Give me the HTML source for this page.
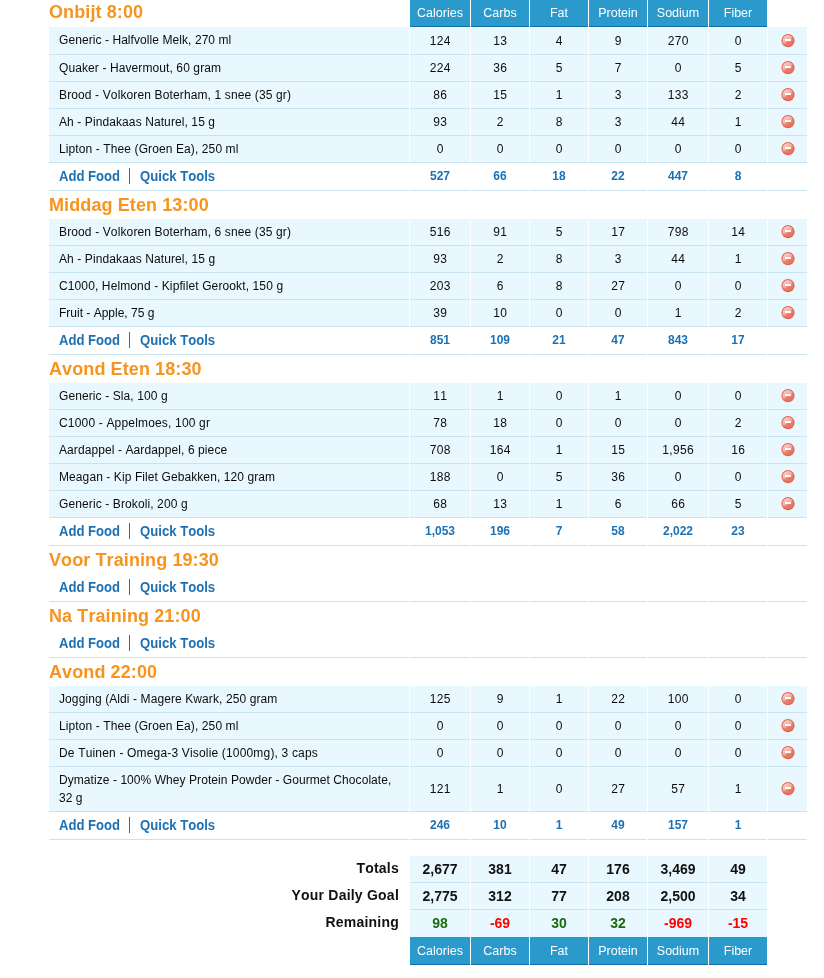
<!DOCTYPE html>
<html lang="nl">
<head>
<meta charset="utf-8">
<title>Food Diary</title>
<style>
html,body{margin:0;padding:0;background:#fff;}
body{width:824px;height:978px;overflow:hidden;font-family:"Liberation Sans",Arial,Helvetica,sans-serif;font-size:12px;color:#0c0c0c;font-kerning:none;}
#diary{position:absolute;left:49px;top:0;width:758px;}
.row{display:flex;width:758px;box-sizing:border-box;}
.c{box-sizing:border-box;margin-right:1px;flex:none;}
.name{width:360px;}
.n0,.n4{width:60px;}
.n1,.n2,.n3,.n5{width:58px;}
.d{width:39px;margin-right:0;}
.n{text-align:center;}
/* heading rows */
.head{height:28px;}
.head.first{height:27px;}
h2{margin:0;font-size:18px;line-height:20px;font-weight:bold;color:#f7941d;padding-top:4px;white-space:nowrap;letter-spacing:0.1px;}
.first h2{padding-top:2px;}
.th{background:#2a9acd;color:#fff;font-size:12.5px;height:27px;line-height:27px;border-bottom:1px solid #0f6caa;}
/* food rows */
.food{height:27px;}
.food .c{background:#e9f7fe;border-bottom:1px solid #c8e4f1;line-height:26px;}
.food .n span{letter-spacing:0.33px;margin-right:-0.33px;}
.food .name{padding-left:10px;white-space:nowrap;letter-spacing:0;}
.food.top{height:28px;}
.food.top .n{border-top:1px solid #fff;}
.food.top .name,.food.top .d{line-height:27px;}
.food.tall{height:45px;}
.food.tall .c{line-height:44px;}
.food.tall .name{line-height:18px;padding-top:4px;}
.del{display:block;margin:6px 0 0 13px;}
.food.top .del{margin-top:7px;}
.food.tall .del{margin-top:15px;}
/* add rows */
.add{height:28px;}
.add .c{border-bottom:1px solid #c8e4f1;line-height:27px;color:#1c71b4;font-weight:bold;}
.add .name{padding-left:10px;font-size:13px;white-space:nowrap;line-height:27px;}
.add a{color:#1c71b4;display:inline-block;font-size:14px;transform-origin:0 50%;line-height:27px;}
.add .af{transform:scaleX(0.935);margin-right:-4.2px;}
.add .qt{transform:scaleX(0.938);margin-right:-4.9px;}
.bar{display:inline-block;width:1px;height:16px;background:#1c71b4;vertical-align:middle;margin:-4px 10px 0 9px;}
.gap{height:16px;}
/* totals */
.tot{height:27px;}
.tot .n{background:#e9f7fe;border-bottom:1px solid #c8e4f1;line-height:26px;font-weight:bold;font-size:14px;color:#111;}
.tot .name{text-align:right;padding-right:10px;font-weight:bold;font-size:14px;line-height:24px;color:#111;letter-spacing:0.22px;white-space:nowrap;}
.tot.t2 .n{border-bottom:0;line-height:27px;}
.tot .pos{color:#196b10;}
.tot .neg{color:#f00;}
.foot{height:28px;}
.foot .th{height:28px;line-height:29px;}
</style>
</head>
<body>
<div id="diary">
<div class="row head first"><div class="c name"><h2>Onbijt 8:00</h2></div><div class="c n n0 th"><span>Calories</span></div><div class="c n n1 th"><span>Carbs</span></div><div class="c n n2 th"><span>Fat</span></div><div class="c n n3 th"><span>Protein</span></div><div class="c n n4 th"><span>Sodium</span></div><div class="c n n5 th"><span>Fiber</span></div><div class="c d"></div></div>
<div class="row food top"><div class="c name"><span style="letter-spacing:0.071px">Generic - Halfvolle Melk, 270 ml</span></div><div class="c n n0"><span>124</span></div><div class="c n n1"><span>13</span></div><div class="c n n2"><span>4</span></div><div class="c n n3"><span>9</span></div><div class="c n n4"><span>270</span></div><div class="c n n5"><span>0</span></div><div class="c d"><svg class="del" width="14" height="14" viewBox="0 0 14 14"><defs><linearGradient id="g1" x1="0.2" y1="0.05" x2="0.8" y2="0.95"><stop offset="0" stop-color="#fad2cc"/><stop offset="0.5" stop-color="#f2a69c"/><stop offset="0.56" stop-color="#e9806e"/><stop offset="1" stop-color="#e56f5a"/></linearGradient></defs><circle cx="7" cy="6.6" r="6.6" fill="#e3654f"/><circle cx="7" cy="6.6" r="5.5" fill="url(#g1)"/><rect x="4" y="5" width="6" height="2" fill="#fff"/></svg></div></div>
<div class="row food"><div class="c name"><span style="letter-spacing:0.1px">Quaker - Havermout, 60 gram</span></div><div class="c n n0"><span>224</span></div><div class="c n n1"><span>36</span></div><div class="c n n2"><span>5</span></div><div class="c n n3"><span>7</span></div><div class="c n n4"><span>0</span></div><div class="c n n5"><span>5</span></div><div class="c d"><svg class="del" width="14" height="14" viewBox="0 0 14 14"><defs><linearGradient id="g2" x1="0.2" y1="0.05" x2="0.8" y2="0.95"><stop offset="0" stop-color="#fad2cc"/><stop offset="0.5" stop-color="#f2a69c"/><stop offset="0.56" stop-color="#e9806e"/><stop offset="1" stop-color="#e56f5a"/></linearGradient></defs><circle cx="7" cy="6.6" r="6.6" fill="#e3654f"/><circle cx="7" cy="6.6" r="5.5" fill="url(#g2)"/><rect x="4" y="5" width="6" height="2" fill="#fff"/></svg></div></div>
<div class="row food"><div class="c name"><span style="letter-spacing:0.128px">Brood - Volkoren Boterham, 1 snee (35 gr)</span></div><div class="c n n0"><span>86</span></div><div class="c n n1"><span>15</span></div><div class="c n n2"><span>1</span></div><div class="c n n3"><span>3</span></div><div class="c n n4"><span>133</span></div><div class="c n n5"><span>2</span></div><div class="c d"><svg class="del" width="14" height="14" viewBox="0 0 14 14"><defs><linearGradient id="g3" x1="0.2" y1="0.05" x2="0.8" y2="0.95"><stop offset="0" stop-color="#fad2cc"/><stop offset="0.5" stop-color="#f2a69c"/><stop offset="0.56" stop-color="#e9806e"/><stop offset="1" stop-color="#e56f5a"/></linearGradient></defs><circle cx="7" cy="6.6" r="6.6" fill="#e3654f"/><circle cx="7" cy="6.6" r="5.5" fill="url(#g3)"/><rect x="4" y="5" width="6" height="2" fill="#fff"/></svg></div></div>
<div class="row food"><div class="c name"><span style="letter-spacing:0.096px">Ah - Pindakaas Naturel, 15 g</span></div><div class="c n n0"><span>93</span></div><div class="c n n1"><span>2</span></div><div class="c n n2"><span>8</span></div><div class="c n n3"><span>3</span></div><div class="c n n4"><span>44</span></div><div class="c n n5"><span>1</span></div><div class="c d"><svg class="del" width="14" height="14" viewBox="0 0 14 14"><defs><linearGradient id="g4" x1="0.2" y1="0.05" x2="0.8" y2="0.95"><stop offset="0" stop-color="#fad2cc"/><stop offset="0.5" stop-color="#f2a69c"/><stop offset="0.56" stop-color="#e9806e"/><stop offset="1" stop-color="#e56f5a"/></linearGradient></defs><circle cx="7" cy="6.6" r="6.6" fill="#e3654f"/><circle cx="7" cy="6.6" r="5.5" fill="url(#g4)"/><rect x="4" y="5" width="6" height="2" fill="#fff"/></svg></div></div>
<div class="row food"><div class="c name"><span style="letter-spacing:0.106px">Lipton - Thee (Groen Ea), 250 ml</span></div><div class="c n n0"><span>0</span></div><div class="c n n1"><span>0</span></div><div class="c n n2"><span>0</span></div><div class="c n n3"><span>0</span></div><div class="c n n4"><span>0</span></div><div class="c n n5"><span>0</span></div><div class="c d"><svg class="del" width="14" height="14" viewBox="0 0 14 14"><defs><linearGradient id="g5" x1="0.2" y1="0.05" x2="0.8" y2="0.95"><stop offset="0" stop-color="#fad2cc"/><stop offset="0.5" stop-color="#f2a69c"/><stop offset="0.56" stop-color="#e9806e"/><stop offset="1" stop-color="#e56f5a"/></linearGradient></defs><circle cx="7" cy="6.6" r="6.6" fill="#e3654f"/><circle cx="7" cy="6.6" r="5.5" fill="url(#g5)"/><rect x="4" y="5" width="6" height="2" fill="#fff"/></svg></div></div>
<div class="row add"><div class="c name"><a class="af">Add Food</a><i class="bar"></i><a class="qt">Quick Tools</a></div><div class="c n n0"><span>527</span></div><div class="c n n1"><span>66</span></div><div class="c n n2"><span>18</span></div><div class="c n n3"><span>22</span></div><div class="c n n4"><span>447</span></div><div class="c n n5"><span>8</span></div><div class="c d"></div></div>
<div class="row head"><div class="c name"><h2>Middag Eten 13:00</h2></div></div>
<div class="row food"><div class="c name"><span style="letter-spacing:0.13px">Brood - Volkoren Boterham, 6 snee (35 gr)</span></div><div class="c n n0"><span>516</span></div><div class="c n n1"><span>91</span></div><div class="c n n2"><span>5</span></div><div class="c n n3"><span>17</span></div><div class="c n n4"><span>798</span></div><div class="c n n5"><span>14</span></div><div class="c d"><svg class="del" width="14" height="14" viewBox="0 0 14 14"><defs><linearGradient id="g6" x1="0.2" y1="0.05" x2="0.8" y2="0.95"><stop offset="0" stop-color="#fad2cc"/><stop offset="0.5" stop-color="#f2a69c"/><stop offset="0.56" stop-color="#e9806e"/><stop offset="1" stop-color="#e56f5a"/></linearGradient></defs><circle cx="7" cy="6.6" r="6.6" fill="#e3654f"/><circle cx="7" cy="6.6" r="5.5" fill="url(#g6)"/><rect x="4" y="5" width="6" height="2" fill="#fff"/></svg></div></div>
<div class="row food"><div class="c name"><span style="letter-spacing:0.1px">Ah - Pindakaas Naturel, 15 g</span></div><div class="c n n0"><span>93</span></div><div class="c n n1"><span>2</span></div><div class="c n n2"><span>8</span></div><div class="c n n3"><span>3</span></div><div class="c n n4"><span>44</span></div><div class="c n n5"><span>1</span></div><div class="c d"><svg class="del" width="14" height="14" viewBox="0 0 14 14"><defs><linearGradient id="g7" x1="0.2" y1="0.05" x2="0.8" y2="0.95"><stop offset="0" stop-color="#fad2cc"/><stop offset="0.5" stop-color="#f2a69c"/><stop offset="0.56" stop-color="#e9806e"/><stop offset="1" stop-color="#e56f5a"/></linearGradient></defs><circle cx="7" cy="6.6" r="6.6" fill="#e3654f"/><circle cx="7" cy="6.6" r="5.5" fill="url(#g7)"/><rect x="4" y="5" width="6" height="2" fill="#fff"/></svg></div></div>
<div class="row food"><div class="c name"><span style="letter-spacing:0.118px">C1000, Helmond - Kipfilet Gerookt, 150 g</span></div><div class="c n n0"><span>203</span></div><div class="c n n1"><span>6</span></div><div class="c n n2"><span>8</span></div><div class="c n n3"><span>27</span></div><div class="c n n4"><span>0</span></div><div class="c n n5"><span>0</span></div><div class="c d"><svg class="del" width="14" height="14" viewBox="0 0 14 14"><defs><linearGradient id="g8" x1="0.2" y1="0.05" x2="0.8" y2="0.95"><stop offset="0" stop-color="#fad2cc"/><stop offset="0.5" stop-color="#f2a69c"/><stop offset="0.56" stop-color="#e9806e"/><stop offset="1" stop-color="#e56f5a"/></linearGradient></defs><circle cx="7" cy="6.6" r="6.6" fill="#e3654f"/><circle cx="7" cy="6.6" r="5.5" fill="url(#g8)"/><rect x="4" y="5" width="6" height="2" fill="#fff"/></svg></div></div>
<div class="row food"><div class="c name"><span style="letter-spacing:0px">Fruit - Apple, 75 g</span></div><div class="c n n0"><span>39</span></div><div class="c n n1"><span>10</span></div><div class="c n n2"><span>0</span></div><div class="c n n3"><span>0</span></div><div class="c n n4"><span>1</span></div><div class="c n n5"><span>2</span></div><div class="c d"><svg class="del" width="14" height="14" viewBox="0 0 14 14"><defs><linearGradient id="g9" x1="0.2" y1="0.05" x2="0.8" y2="0.95"><stop offset="0" stop-color="#fad2cc"/><stop offset="0.5" stop-color="#f2a69c"/><stop offset="0.56" stop-color="#e9806e"/><stop offset="1" stop-color="#e56f5a"/></linearGradient></defs><circle cx="7" cy="6.6" r="6.6" fill="#e3654f"/><circle cx="7" cy="6.6" r="5.5" fill="url(#g9)"/><rect x="4" y="5" width="6" height="2" fill="#fff"/></svg></div></div>
<div class="row add"><div class="c name"><a class="af">Add Food</a><i class="bar"></i><a class="qt">Quick Tools</a></div><div class="c n n0"><span>851</span></div><div class="c n n1"><span>109</span></div><div class="c n n2"><span>21</span></div><div class="c n n3"><span>47</span></div><div class="c n n4"><span>843</span></div><div class="c n n5"><span>17</span></div><div class="c d"></div></div>
<div class="row head"><div class="c name"><h2>Avond Eten 18:30</h2></div></div>
<div class="row food"><div class="c name"><span style="letter-spacing:0.1px">Generic - Sla, 100 g</span></div><div class="c n n0"><span>11</span></div><div class="c n n1"><span>1</span></div><div class="c n n2"><span>0</span></div><div class="c n n3"><span>1</span></div><div class="c n n4"><span>0</span></div><div class="c n n5"><span>0</span></div><div class="c d"><svg class="del" width="14" height="14" viewBox="0 0 14 14"><defs><linearGradient id="g10" x1="0.2" y1="0.05" x2="0.8" y2="0.95"><stop offset="0" stop-color="#fad2cc"/><stop offset="0.5" stop-color="#f2a69c"/><stop offset="0.56" stop-color="#e9806e"/><stop offset="1" stop-color="#e56f5a"/></linearGradient></defs><circle cx="7" cy="6.6" r="6.6" fill="#e3654f"/><circle cx="7" cy="6.6" r="5.5" fill="url(#g10)"/><rect x="4" y="5" width="6" height="2" fill="#fff"/></svg></div></div>
<div class="row food"><div class="c name"><span style="letter-spacing:0.175px">C1000 - Appelmoes, 100 gr</span></div><div class="c n n0"><span>78</span></div><div class="c n n1"><span>18</span></div><div class="c n n2"><span>0</span></div><div class="c n n3"><span>0</span></div><div class="c n n4"><span>0</span></div><div class="c n n5"><span>2</span></div><div class="c d"><svg class="del" width="14" height="14" viewBox="0 0 14 14"><defs><linearGradient id="g11" x1="0.2" y1="0.05" x2="0.8" y2="0.95"><stop offset="0" stop-color="#fad2cc"/><stop offset="0.5" stop-color="#f2a69c"/><stop offset="0.56" stop-color="#e9806e"/><stop offset="1" stop-color="#e56f5a"/></linearGradient></defs><circle cx="7" cy="6.6" r="6.6" fill="#e3654f"/><circle cx="7" cy="6.6" r="5.5" fill="url(#g11)"/><rect x="4" y="5" width="6" height="2" fill="#fff"/></svg></div></div>
<div class="row food"><div class="c name"><span style="letter-spacing:0.093px">Aardappel - Aardappel, 6 piece</span></div><div class="c n n0"><span>708</span></div><div class="c n n1"><span>164</span></div><div class="c n n2"><span>1</span></div><div class="c n n3"><span>15</span></div><div class="c n n4"><span>1,956</span></div><div class="c n n5"><span>16</span></div><div class="c d"><svg class="del" width="14" height="14" viewBox="0 0 14 14"><defs><linearGradient id="g12" x1="0.2" y1="0.05" x2="0.8" y2="0.95"><stop offset="0" stop-color="#fad2cc"/><stop offset="0.5" stop-color="#f2a69c"/><stop offset="0.56" stop-color="#e9806e"/><stop offset="1" stop-color="#e56f5a"/></linearGradient></defs><circle cx="7" cy="6.6" r="6.6" fill="#e3654f"/><circle cx="7" cy="6.6" r="5.5" fill="url(#g12)"/><rect x="4" y="5" width="6" height="2" fill="#fff"/></svg></div></div>
<div class="row food"><div class="c name"><span style="letter-spacing:0.092px">Meagan - Kip Filet Gebakken, 120 gram</span></div><div class="c n n0"><span>188</span></div><div class="c n n1"><span>0</span></div><div class="c n n2"><span>5</span></div><div class="c n n3"><span>36</span></div><div class="c n n4"><span>0</span></div><div class="c n n5"><span>0</span></div><div class="c d"><svg class="del" width="14" height="14" viewBox="0 0 14 14"><defs><linearGradient id="g13" x1="0.2" y1="0.05" x2="0.8" y2="0.95"><stop offset="0" stop-color="#fad2cc"/><stop offset="0.5" stop-color="#f2a69c"/><stop offset="0.56" stop-color="#e9806e"/><stop offset="1" stop-color="#e56f5a"/></linearGradient></defs><circle cx="7" cy="6.6" r="6.6" fill="#e3654f"/><circle cx="7" cy="6.6" r="5.5" fill="url(#g13)"/><rect x="4" y="5" width="6" height="2" fill="#fff"/></svg></div></div>
<div class="row food"><div class="c name"><span style="letter-spacing:0.109px">Generic - Brokoli, 200 g</span></div><div class="c n n0"><span>68</span></div><div class="c n n1"><span>13</span></div><div class="c n n2"><span>1</span></div><div class="c n n3"><span>6</span></div><div class="c n n4"><span>66</span></div><div class="c n n5"><span>5</span></div><div class="c d"><svg class="del" width="14" height="14" viewBox="0 0 14 14"><defs><linearGradient id="g14" x1="0.2" y1="0.05" x2="0.8" y2="0.95"><stop offset="0" stop-color="#fad2cc"/><stop offset="0.5" stop-color="#f2a69c"/><stop offset="0.56" stop-color="#e9806e"/><stop offset="1" stop-color="#e56f5a"/></linearGradient></defs><circle cx="7" cy="6.6" r="6.6" fill="#e3654f"/><circle cx="7" cy="6.6" r="5.5" fill="url(#g14)"/><rect x="4" y="5" width="6" height="2" fill="#fff"/></svg></div></div>
<div class="row add"><div class="c name"><a class="af">Add Food</a><i class="bar"></i><a class="qt">Quick Tools</a></div><div class="c n n0"><span>1,053</span></div><div class="c n n1"><span>196</span></div><div class="c n n2"><span>7</span></div><div class="c n n3"><span>58</span></div><div class="c n n4"><span>2,022</span></div><div class="c n n5"><span>23</span></div><div class="c d"></div></div>
<div class="row head"><div class="c name"><h2>Voor Training 19:30</h2></div></div>
<div class="row add"><div class="c name"><a class="af">Add Food</a><i class="bar"></i><a class="qt">Quick Tools</a></div><div class="c n n0"><span></span></div><div class="c n n1"><span></span></div><div class="c n n2"><span></span></div><div class="c n n3"><span></span></div><div class="c n n4"><span></span></div><div class="c n n5"><span></span></div><div class="c d"></div></div>
<div class="row head"><div class="c name"><h2>Na Training 21:00</h2></div></div>
<div class="row add"><div class="c name"><a class="af">Add Food</a><i class="bar"></i><a class="qt">Quick Tools</a></div><div class="c n n0"><span></span></div><div class="c n n1"><span></span></div><div class="c n n2"><span></span></div><div class="c n n3"><span></span></div><div class="c n n4"><span></span></div><div class="c n n5"><span></span></div><div class="c d"></div></div>
<div class="row head"><div class="c name"><h2>Avond 22:00</h2></div></div>
<div class="row food"><div class="c name"><span style="letter-spacing:0.095px">Jogging (Aldi - Magere Kwark, 250 gram</span></div><div class="c n n0"><span>125</span></div><div class="c n n1"><span>9</span></div><div class="c n n2"><span>1</span></div><div class="c n n3"><span>22</span></div><div class="c n n4"><span>100</span></div><div class="c n n5"><span>0</span></div><div class="c d"><svg class="del" width="14" height="14" viewBox="0 0 14 14"><defs><linearGradient id="g15" x1="0.2" y1="0.05" x2="0.8" y2="0.95"><stop offset="0" stop-color="#fad2cc"/><stop offset="0.5" stop-color="#f2a69c"/><stop offset="0.56" stop-color="#e9806e"/><stop offset="1" stop-color="#e56f5a"/></linearGradient></defs><circle cx="7" cy="6.6" r="6.6" fill="#e3654f"/><circle cx="7" cy="6.6" r="5.5" fill="url(#g15)"/><rect x="4" y="5" width="6" height="2" fill="#fff"/></svg></div></div>
<div class="row food"><div class="c name"><span style="letter-spacing:0.106px">Lipton - Thee (Groen Ea), 250 ml</span></div><div class="c n n0"><span>0</span></div><div class="c n n1"><span>0</span></div><div class="c n n2"><span>0</span></div><div class="c n n3"><span>0</span></div><div class="c n n4"><span>0</span></div><div class="c n n5"><span>0</span></div><div class="c d"><svg class="del" width="14" height="14" viewBox="0 0 14 14"><defs><linearGradient id="g16" x1="0.2" y1="0.05" x2="0.8" y2="0.95"><stop offset="0" stop-color="#fad2cc"/><stop offset="0.5" stop-color="#f2a69c"/><stop offset="0.56" stop-color="#e9806e"/><stop offset="1" stop-color="#e56f5a"/></linearGradient></defs><circle cx="7" cy="6.6" r="6.6" fill="#e3654f"/><circle cx="7" cy="6.6" r="5.5" fill="url(#g16)"/><rect x="4" y="5" width="6" height="2" fill="#fff"/></svg></div></div>
<div class="row food"><div class="c name"><span style="letter-spacing:0.17px">De Tuinen - Omega-3 Visolie (1000mg), 3 caps</span></div><div class="c n n0"><span>0</span></div><div class="c n n1"><span>0</span></div><div class="c n n2"><span>0</span></div><div class="c n n3"><span>0</span></div><div class="c n n4"><span>0</span></div><div class="c n n5"><span>0</span></div><div class="c d"><svg class="del" width="14" height="14" viewBox="0 0 14 14"><defs><linearGradient id="g17" x1="0.2" y1="0.05" x2="0.8" y2="0.95"><stop offset="0" stop-color="#fad2cc"/><stop offset="0.5" stop-color="#f2a69c"/><stop offset="0.56" stop-color="#e9806e"/><stop offset="1" stop-color="#e56f5a"/></linearGradient></defs><circle cx="7" cy="6.6" r="6.6" fill="#e3654f"/><circle cx="7" cy="6.6" r="5.5" fill="url(#g17)"/><rect x="4" y="5" width="6" height="2" fill="#fff"/></svg></div></div>
<div class="row food tall"><div class="c name"><span style="letter-spacing:0.064px">Dymatize - 100% Whey Protein Powder - Gourmet Chocolate,<br>32 g</span></div><div class="c n n0"><span>121</span></div><div class="c n n1"><span>1</span></div><div class="c n n2"><span>0</span></div><div class="c n n3"><span>27</span></div><div class="c n n4"><span>57</span></div><div class="c n n5"><span>1</span></div><div class="c d"><svg class="del" width="14" height="14" viewBox="0 0 14 14"><defs><linearGradient id="g18" x1="0.2" y1="0.05" x2="0.8" y2="0.95"><stop offset="0" stop-color="#fad2cc"/><stop offset="0.5" stop-color="#f2a69c"/><stop offset="0.56" stop-color="#e9806e"/><stop offset="1" stop-color="#e56f5a"/></linearGradient></defs><circle cx="7" cy="6.6" r="6.6" fill="#e3654f"/><circle cx="7" cy="6.6" r="5.5" fill="url(#g18)"/><rect x="4" y="5" width="6" height="2" fill="#fff"/></svg></div></div>
<div class="row add"><div class="c name"><a class="af">Add Food</a><i class="bar"></i><a class="qt">Quick Tools</a></div><div class="c n n0"><span>246</span></div><div class="c n n1"><span>10</span></div><div class="c n n2"><span>1</span></div><div class="c n n3"><span>49</span></div><div class="c n n4"><span>157</span></div><div class="c n n5"><span>1</span></div><div class="c d"></div></div>
<div class="gap"></div>
<div class="row tot t0"><div class="c name"><span>Totals</span></div><div class="c n n0"><span>2,677</span></div><div class="c n n1"><span>381</span></div><div class="c n n2"><span>47</span></div><div class="c n n3"><span>176</span></div><div class="c n n4"><span>3,469</span></div><div class="c n n5"><span>49</span></div><div class="c d"></div></div>
<div class="row tot t1"><div class="c name"><span>Your Daily Goal</span></div><div class="c n n0"><span>2,775</span></div><div class="c n n1"><span>312</span></div><div class="c n n2"><span>77</span></div><div class="c n n3"><span>208</span></div><div class="c n n4"><span>2,500</span></div><div class="c n n5"><span>34</span></div><div class="c d"></div></div>
<div class="row tot t2"><div class="c name"><span>Remaining</span></div><div class="c n n0 pos"><span>98</span></div><div class="c n n1 neg"><span>-69</span></div><div class="c n n2 pos"><span>30</span></div><div class="c n n3 pos"><span>32</span></div><div class="c n n4 neg"><span>-969</span></div><div class="c n n5 neg"><span>-15</span></div><div class="c d"></div></div>
<div class="row foot"><div class="c name"></div><div class="c n n0 th"><span>Calories</span></div><div class="c n n1 th"><span>Carbs</span></div><div class="c n n2 th"><span>Fat</span></div><div class="c n n3 th"><span>Protein</span></div><div class="c n n4 th"><span>Sodium</span></div><div class="c n n5 th"><span>Fiber</span></div><div class="c d"></div></div>
</div>
</body>
</html>
